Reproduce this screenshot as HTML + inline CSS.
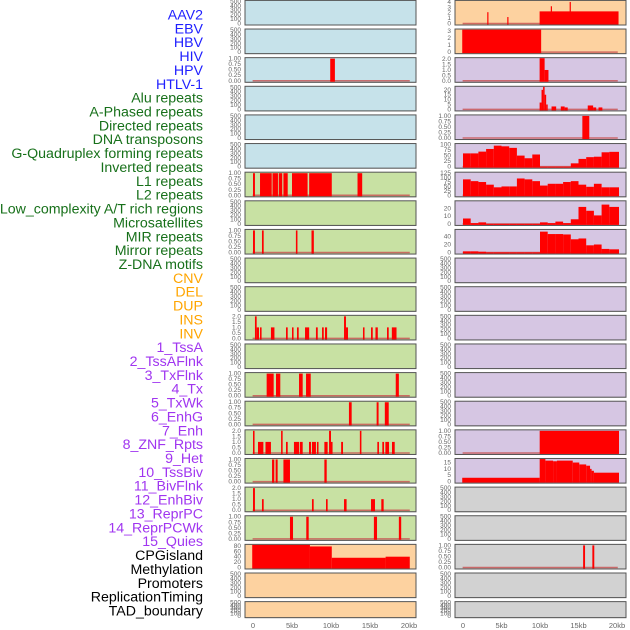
<!DOCTYPE html>
<html><head><meta charset="utf-8"><style>
html,body{margin:0;padding:0;background:#fff;}
svg{display:block;font-family:"Liberation Sans",sans-serif;}
</style></head><body>
<svg id="chart" width="630" height="630" viewBox="0 0 630 630" xmlns="http://www.w3.org/2000/svg">
<g id="labels"></g>
<g id="panels"></g>
<g id="xaxis"></g>
</svg>
<script>
const trackLabels = ["AAV2","EBV","HBV","HIV","HPV","HTLV-1","Alu repeats","A-Phased repeats","Directed repeats","DNA transposons","G-Quadruplex forming repeats","Inverted repeats","L1 repeats","L2 repeats","Low_complexity A/T rich regions","Microsatellites","MIR repeats","Mirror repeats","Z-DNA motifs","CNV","DEL","DUP","INS","INV","1_TssA","2_TssAFlnk","3_TxFlnk","4_Tx","5_TxWk","6_EnhG","7_Enh","8_ZNF_Rpts","9_Het","10_TssBiv","11_BivFlnk","12_EnhBiv","13_ReprPC","14_ReprPCWk","15_Quies","CPGisland","Methylation","Promoters","ReplicationTiming","TAD_boundary"];
const labelGroups = ["v","v","v","v","v","v","r","r","r","r","r","r","r","r","r","r","r","r","r","s","s","s","s","s","c","c","c","c","c","c","c","c","c","c","c","c","c","c","c","k","k","k","k","k"];
const xTickLabels = ["0","5kb","10kb","15kb","20kb"];
const xTickValues = [0,5,10,15,20];

// segments: [startKb, endKb, value]
const leftHIV = [[9.9,10.5,1]];
const leftL1 = [[0,0.25,1],[0.9,2.4,1],[2.5,3.2,1],[3.3,3.75,1],[3.9,4.45,1],[5.0,7.0,1],[7.2,10.1,1],[13.4,14.0,1]];
const leftMIR = [[0,0.25,1],[1.15,1.37,1],[5.5,5.7,1],[7.5,7.8,1]];
const leftINS = [[0.25,0.47,2],[0.47,0.77,1],[0.9,1.1,1],[2.3,2.75,1],[4.23,4.45,1],[5.0,5.2,1],[5.64,5.86,1],[6.67,7.2,1],[8.07,8.3,1],[8.85,9.07,1],[9.23,9.5,1],[11.67,11.92,2],[11.92,12.18,1],[14.1,14.3,1],[15.13,15.35,1],[15.7,16.0,1],[17.18,17.4,1],[17.8,18.4,1]];
const leftTxFlnk = [[1.75,2.65,1],[2.95,3.5,1],[5.9,6.37,1],[6.8,7.4,1],[18.3,18.7,1]];
const leftTx = [[12.3,12.65,1],[15.85,16.1,1],[16.9,17.4,1]];
const leftEnhG = [[0,0.2,2],[0.64,1.33,1],[1.6,2.3,1],[3.6,3.8,2],[4.23,4.45,1],[5.25,5.9,1],[6.0,6.37,1],[7.18,7.44,1],[7.56,8.07,1],[8.2,8.4,1],[9.15,9.57,1],[9.75,10.0,2],[10.0,10.2,1],[11.3,11.54,1],[13.7,13.9,2],[15.94,16.15,1],[16.58,16.8,1],[16.97,17.44,1],[17.82,18.17,1]];
const leftEnh = [[2.44,2.73,1],[2.9,3.16,1],[3.9,4.74,1],[9.15,9.45,1]];
const leftZNF = [[0,0.25,2],[1.15,1.37,1],[7.56,7.78,1],[9.36,9.57,1],[11.67,12.0,1],[15.13,15.64,1],[16.45,16.75,1]];
const leftHet = [[4.74,5.13,1],[6.83,7.14,1],[15.5,15.9,1],[18.7,19.0,1]];
const leftCPG = [[-0.1,7.3,85],[7.3,10.1,78],[10.1,17.0,36],[17.0,20.1,40]];
const rightAAV2 = [[3.15,3.3,2.1],[5.75,5.9,1.2],[9.95,20.2,2.25],[11.4,11.55,3.2],[13.85,14.0,4]];
const rightEBV = [[-0.1,10.15,3.2]];
const rightHBV = [[9.95,10.6,2.1],[10.6,11.1,1.0]];
const rightHIV = [[9.95,10.2,7],[10.2,10.4,20],[10.4,10.6,23],[10.6,10.8,15],[10.8,11.0,5],[11.5,12.1,3],[12.7,13.2,3],[13.2,13.6,2],[16.2,16.9,4],[16.9,17.3,2],[17.6,18.1,2]];
const rightHPV = [[15.5,16.4,1]];
const right9Het = [[9.96,20.26,1]];
const right10TssBiv = [[-0.1,9.96,3],[9.96,10.7,18],[10.7,11.7,16.5],[11.7,12.2,16],[12.2,14.25,16.5],[14.25,15.1,15],[15.1,16.0,13.5],[16.0,16.5,12.5],[16.5,16.7,10],[16.7,17.0,8.5],[17.0,20.26,7]];
const rightCPG = [[15.6,15.85,1],[16.8,17.05,1]];
// 1kb bins from 0 to 20kb
const rightGQuad = [60,60,68,80,95,92,85,50,38,55,0,0,0,0,15,35,43,45,65,67];
const rightL1 = [90,80,75,60,45,50,50,95,90,80,55,65,65,75,80,60,48,65,45,45];
const rightLowComp = [7,1,2,0,0,0,0,0,0,0,2,1,3,1,6,22,17,11,25,22];
const rightMIR = [3,3,2,0.5,0.5,0.5,0.5,0.5,0.5,0.5,52,46,46,45,33,35,18,20,9,8];

const T500 = ["0","100","200","300","400","500"], V500=[0,100,200,300,400,500];
const T1 = ["0.00","0.25","0.50","0.75","1.00"], V1=[0,0.25,0.5,0.75,1];
const T2 = ["0.0","0.5","1.0","1.5","2.0"], V2=[0,0.5,1,1.5,2];

const BG = {b:"#c6e2ea", g:"#c8e1a3", p:"#fdd2a0", u:"#d6c6e3", k:"#d2d2d2"};
const rowBg = [["b","p"],["b","p"],["b","u"],["b","u"],["b","u"],["b","u"],["g","u"],["g","u"],["g","u"],["g","u"],["g","u"],["g","u"],["g","u"],["g","u"],["g","u"],["g","u"],["g","u"],["g","k"],["g","k"],["p","k"],["p","k"],["p","k"]];

function E(def){return {kind:"none",ymax:500,tl:T500,tv:V500};}
const leftTracks = [E(),E(),{kind:"seg",d:leftHIV,ymax:1,tl:T1,tv:V1},E(),E(),E(),
 {kind:"seg",d:leftL1,ymax:1,tl:T1,tv:V1},E(),{kind:"seg",d:leftMIR,ymax:1,tl:T1,tv:V1},E(),E(),
 {kind:"seg",d:leftINS,ymax:2,tl:T2,tv:V2},E(),{kind:"seg",d:leftTxFlnk,ymax:1,tl:T1,tv:V1},
 {kind:"seg",d:leftTx,ymax:1,tl:T1,tv:V1},{kind:"seg",d:leftEnhG,ymax:2,tl:T2,tv:V2},
 {kind:"seg",d:leftEnh,ymax:1,tl:T1,tv:V1},{kind:"seg",d:leftZNF,ymax:2,tl:T2,tv:V2},
 {kind:"seg",d:leftHet,ymax:1,tl:T1,tv:V1},{kind:"seg",d:leftCPG,ymax:82,tl:["0","20","40","60","80"],tv:[0,20,40,60,80],nobase:true},E(),E()];
const rightTracks = [{kind:"seg",d:rightAAV2,ymax:4.1,tl:["0","1","2","3","4"],tv:[0,1,2,3,4]},
 {kind:"seg",d:rightEBV,ymax:3.15,tl:["0","1","2","3"],tv:[0,1,2,3]},
 {kind:"seg",d:rightHBV,ymax:2.05,tl:T2,tv:V2},
 {kind:"seg",d:rightHIV,ymax:22.6,tl:["0","5","10","15","20"],tv:[0,5,10,15,20]},
 {kind:"seg",d:rightHPV,ymax:1,tl:T1,tv:V1},
 {kind:"bin",d:rightGQuad,ymax:100,tl:["0","25","50","75","100"],tv:[0,25,50,75,100]},
 {kind:"bin",d:rightL1,ymax:125,tl:["0","25","50","75","100","125"],tv:[0,25,50,75,100,125]},
 {kind:"bin",d:rightLowComp,ymax:28.6,tl:["0","10","20"],tv:[0,10,20]},
 {kind:"bin",d:rightMIR,ymax:55,tl:["0","20","40"],tv:[0,20,40]},
 E(),E(),E(),E(),E(),E(),
 {kind:"seg",d:right9Het,ymax:1,tl:T1,tv:V1},
 {kind:"seg",d:right10TssBiv,ymax:17.4,tl:["0","5","10","15"],tv:[0,5,10,15]},
 E(),E(),{kind:"seg",d:rightCPG,ymax:1,tl:T1,tv:V1},E(),E()];

const NS="http://www.w3.org/2000/svg";
function mk(tag,attrs,parent){const e=document.createElementNS(NS,tag);for(const k in attrs)e.setAttribute(k,attrs[k]);parent.appendChild(e);return e;}

const labelG=document.getElementById('labels');
const colors={v:"#1f1fff",r:"#17701a",s:"#ffa500",c:"#a035f0",k:"#000"};
trackLabels.forEach((t,i)=>{
  const el=mk('text',{x:203,y:19.5+i*13.86,'text-anchor':'end','font-size':'14.2',fill:colors[labelGroups[i]]},labelG);
  
  
  el.textContent=t;
});

const cols=[{x0:245,x1:416,z:253,s:7.8,tickX:241},{x0:455,x1:626,z:463,s:7.7,tickX:451}];
const panelsG=document.getElementById('panels');
for(let k=0;k<22;k++){
  const top=0.4+28.63*k; const h=(k===21)?16:24.6; const bot=top+h;
  [leftTracks[k],rightTracks[k]].forEach((tr,c)=>{
    const col=cols[c];
    const g=mk('g',{},panelsG);
    
    
    mk('rect',{x:col.x0+0.5,y:top+0.5,width:col.x1-col.x0,height:h,fill:"#999"},g);
    const bg=mk('rect',{x:col.x0,y:top,width:col.x1-col.x0,height:h,fill:BG[rowBg[k][c]],stroke:"#555",'stroke-width':1},g);
    
    
    const yv=v=>bot-1.5-Math.min(v,tr.ymax*1.02)/tr.ymax*(h-2.5);
    const xv=kb=>col.z+kb*col.s;
    tr.tl.forEach((lab,i)=>{
      const t=mk('text',{x:col.tickX,y:yv(tr.tv[i])+2,'text-anchor':'end','font-size':'6.5',fill:"#666"},g);
      
      
      t.textContent=lab;
    });
    if(tr.kind==="none") return;
    if(!tr.nobase){
      const bl=mk('line',{x1:xv(-0.05),x2:xv(20.1),y1:yv(0),y2:yv(0),stroke:"#c85050",'stroke-width':1.5,'stroke-opacity':0.8},g);
      
      
    }
    const segs = tr.kind==="seg" ? tr.d : tr.d.map((v,i)=>[i, i===19?20.26:i+1, v]);
    segs.forEach(sg=>{
      const x1=xv(sg[0]),x2=Math.max(xv(sg[1]),xv(sg[0])+1.2);
      const y=Math.max(yv(sg[2]),top+0.5);
      const b=mk('rect',{x:x1,y:y,width:x2-x1,height:Math.max(0,yv(0)+1-y),fill:"#ff0000"},g);
      
      
    });
  });
}
const xg=document.getElementById('xaxis');
cols.forEach(col=>{
  xTickValues.forEach((v,i)=>{
    const t=mk('text',{x:col.z+v*col.s,y:628,'text-anchor':'middle','font-size':'7.5',fill:"#666"},xg);
    
    
    t.textContent=xTickLabels[i];
  });
});
</script>
</body></html>
